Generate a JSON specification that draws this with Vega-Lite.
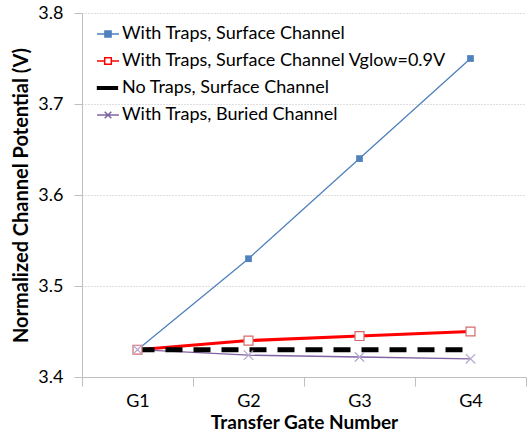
{
  "$schema": "https://vega.github.io/schema/vega-lite/v6.json",
  "width": 444,
  "height": 364,
  "autosize": {"type": "none"},
  "padding": {"left": 82, "top": 13, "right": 5, "bottom": 58},
  "background": "white",
  "config": {
    "font": "Lato",
    "view": {"stroke": null},
    "axis": {
      "labelFont": "Lato", "titleFont": "Lato", "labelFontSize": 18, "labelColor": "#000000",
      "titleFontSize": 19, "titleFontWeight": "bold", "titleColor": "#000000",
      "domainColor": "#BFBFBF", "tickColor": "#BFBFBF", "gridColor": "#BFBFBF"
    },
    "legend": {"labelFont": "Lato"}
  },
  "data": {
    "values": [
      {"g": "G1", "s": "With Traps, Surface Channel", "v": 3.43},
      {"g": "G2", "s": "With Traps, Surface Channel", "v": 3.53},
      {"g": "G3", "s": "With Traps, Surface Channel", "v": 3.64},
      {"g": "G4", "s": "With Traps, Surface Channel", "v": 3.75},
      {"g": "G1", "s": "With Traps, Surface Channel Vglow=0.9V", "v": 3.43},
      {"g": "G2", "s": "With Traps, Surface Channel Vglow=0.9V", "v": 3.44},
      {"g": "G3", "s": "With Traps, Surface Channel Vglow=0.9V", "v": 3.445},
      {"g": "G4", "s": "With Traps, Surface Channel Vglow=0.9V", "v": 3.45},
      {"g": "G1", "s": "No Traps, Surface Channel", "v": 3.43},
      {"g": "G2", "s": "No Traps, Surface Channel", "v": 3.43},
      {"g": "G3", "s": "No Traps, Surface Channel", "v": 3.43},
      {"g": "G4", "s": "No Traps, Surface Channel", "v": 3.43},
      {"g": "G1", "s": "With Traps, Buried Channel", "v": 3.43},
      {"g": "G2", "s": "With Traps, Buried Channel", "v": 3.424},
      {"g": "G3", "s": "With Traps, Buried Channel", "v": 3.422},
      {"g": "G4", "s": "With Traps, Buried Channel", "v": 3.42}
    ]
  },
  "encoding": {
    "x": {
      "field": "g", "type": "nominal", "title": "Transfer Gate Number",
      "scale": {"paddingInner": 0, "paddingOuter": 0},
      "axis": {"labelAngle": 0, "tickBand": "extent", "tickSize": 9, "labelPadding": 6, "titlePadding": 3, "domainColor": "#BFBFBF"}
    },
    "y": {
      "field": "v", "type": "quantitative", "title": "Normalized Channel Potential (V)",
      "scale": {"domain": [3.4, 3.8], "nice": false, "zero": false},
      "axis": {"values": [3.4, 3.5, 3.6, 3.7, 3.8], "format": ".1f", "tickSize": 8, "labelPadding": 11, "titlePadding": 6, "gridDash": [1, 2], "grid": true, "titleFontSize": 20}
    }
  },
  "layer": [
    {
      "transform": [{"filter": "datum.s === 'With Traps, Buried Channel'"}],
      "mark": {"type": "line", "stroke": "#8064A2", "strokeWidth": 1.3}
    },
    {
      "transform": [{"filter": "datum.s === 'With Traps, Surface Channel'"}],
      "mark": {"type": "line", "stroke": "#4F81BD", "strokeWidth": 1.3}
    },
    {
      "transform": [{"filter": "datum.s === 'With Traps, Surface Channel Vglow=0.9V'"}],
      "mark": {"type": "line", "stroke": "#FF0000", "strokeWidth": 3}
    },
    {
      "transform": [{"filter": "datum.s === 'No Traps, Surface Channel'"}],
      "mark": {"type": "line", "stroke": "#000000", "strokeWidth": 5, "strokeDash": [17, 11]}
    },
    {
      "transform": [{"filter": "datum.s === 'With Traps, Surface Channel'"}],
      "mark": {"type": "point", "shape": "square", "filled": true, "color": "#4F81BD", "size": 45, "opacity": 1}
    },
    {
      "transform": [{"filter": "datum.s === 'With Traps, Surface Channel Vglow=0.9V'"}],
      "mark": {"type": "point", "shape": "square", "filled": true, "fill": "#FFFFFF", "stroke": "#D66A6A", "strokeWidth": 1.2, "size": 80, "opacity": 1}
    },
    {
      "transform": [{"filter": "datum.s === 'With Traps, Buried Channel'"}],
      "mark": {"type": "point", "shape": "M-1,-1L1,1M-1,1L1,-1", "filled": false, "stroke": "#B4A7CC", "strokeWidth": 1.2, "size": 90, "opacity": 1}
    },
    {
      "mark": {"type": "point", "size": 0, "filled": true, "strokeWidth": 0},
      "encoding": {
        "shape": {"field": "s", "type": "nominal",
          "scale": {"domain": ["With Traps, Surface Channel", "With Traps, Surface Channel Vglow=0.9V", "No Traps, Surface Channel", "With Traps, Buried Channel"],
            "range": ["M-1,0H1M-0.28,-0.28H0.28V0.28H-0.28Z", "M-1,0H-0.3M0.3,0H1M-0.3,-0.3H0.3V0.3H-0.3Z", "M-0.95,-0.12H0.85V0.12H-0.95Z", "M-1,0H1M-0.3,-0.3L0.3,0.3M-0.3,0.3L0.3,-0.3"]},
          "legend": {"title": null, "orient": "none", "legendX": 14, "legendY": 9, "symbolSize": 484, "symbolOpacity": 1, "symbolStrokeWidth": 1.5, "labelFontSize": 18, "labelColor": "#000000", "labelOffset": 2, "rowPadding": 6, "labelLimit": 420}},
        "fill": {"field": "s", "type": "nominal",
          "scale": {"domain": ["With Traps, Surface Channel", "With Traps, Surface Channel Vglow=0.9V", "No Traps, Surface Channel", "With Traps, Buried Channel"],
            "range": ["#4F81BD", "#FFFFFF", "#000000", "#8064A2"]},
          "legend": {"title": null, "orient": "none", "legendX": 14, "legendY": 9, "symbolSize": 484, "symbolOpacity": 1, "symbolStrokeWidth": 1.5, "labelFontSize": 18, "labelColor": "#000000", "labelOffset": 2, "rowPadding": 6, "labelLimit": 420}},
        "stroke": {"field": "s", "type": "nominal",
          "scale": {"domain": ["With Traps, Surface Channel", "With Traps, Surface Channel Vglow=0.9V", "No Traps, Surface Channel", "With Traps, Buried Channel"],
            "range": ["#4F81BD", "#FF0000", "#000000", "#8064A2"]},
          "legend": {"title": null, "orient": "none", "legendX": 14, "legendY": 9, "symbolSize": 484, "symbolOpacity": 1, "symbolStrokeWidth": 1.5, "labelFontSize": 18, "labelColor": "#000000", "labelOffset": 2, "rowPadding": 6, "labelLimit": 420}}
      }
    }
  ]
}
